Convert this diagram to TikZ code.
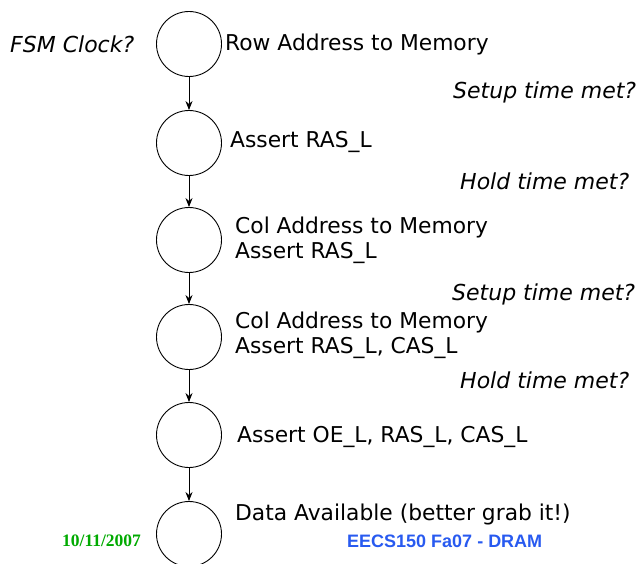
\documentclass[tikz,border=0pt]{standalone}
\usepackage{fontspec}
\setmainfont{DejaVu Sans}
\newfontfamily\serifb{Liberation Serif}
\newfontfamily\sansb{Liberation Sans}
\usetikzlibrary{arrows.meta}
\begin{document}
\begin{tikzpicture}[x=1pt,y=-1pt,
  st/.style={draw,circle,minimum size=65pt,inner sep=0pt,line width=0.9pt},
  lbl/.style={anchor=west,inner sep=0pt,font=\fontsize{21.8}{25}\selectfont,align=left},
  q/.style={anchor=west,inner sep=0pt,font=\fontsize{22}{25}\selectfont\itshape},
  conn/.style={-{Stealth[length=9pt,width=7pt]},line width=0.9pt}]
\useasboundingbox (0,0) rectangle (637,564);
\node[st] (s1) at (189,44) {};
\node[st] (s2) at (189,143) {};
\node[st] (s3) at (189,240) {};
\node[st] (s4) at (189,337) {};
\node[st] (s5) at (189,435) {};
\node[st] (s6) at (189,534) {};
\draw[conn] (s1) -- (s2);
\draw[conn] (s2) -- (s3);
\draw[conn] (s3) -- (s4);
\draw[conn] (s4) -- (s5);
\draw[conn] (s5) -- (s6);
\node[q] (fsm) at (10,44) {FSM Clock?};
\node[lbl] (t1) at (225,44) {Row Address to Memory};
\node[q] (su1) at (453,92) {Setup time met?};
\node[lbl] (t2) at (230,142) {Assert RAS\_L};
\node[q] (h1) at (460,181) {Hold time met?};
\node[lbl] (t3) at (235,240) {Col Address to Memory\\Assert RAS\_L};
\node[q] (su2) at (452,294) {Setup time met?};
\node[lbl] (t4) at (235,335) {Col Address to Memory\\Assert RAS\_L, CAS\_L};
\node[q] (h2) at (460,380) {Hold time met?};
\node[lbl] (t5) at (237,437) {Assert OE\_L, RAS\_L, CAS\_L};
\node[lbl] (t6) at (235,514) {Data Available (better grab it!)};
\node[anchor=west,inner sep=0pt,text={rgb,255:red,0;green,170;blue,0},font=\serifb\bfseries\fontsize{17.5}{20}\selectfont] (date) at (62,541) {10/11/2007};
\node[anchor=west,inner sep=0pt,text={rgb,255:red,40;green,90;blue,240},font=\sansb\bfseries\fontsize{18}{20}\selectfont] (foot) at (347,541) {EECS150 Fa07 - DRAM};
\end{tikzpicture}
\end{document}
